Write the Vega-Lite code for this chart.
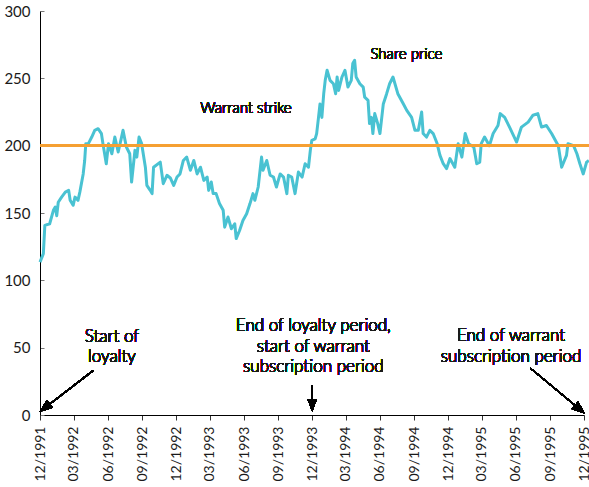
{
  "$schema": "https://vega.github.io/schema/vega-lite/v6.json",
  "width": 544,
  "height": 404,
  "autosize": "none",
  "padding": {"left": 40, "top": 11, "right": 5, "bottom": 72},
  "background": "white",
  "config": {
    "view": {"stroke": null},
    "font": "Lato",
    "axis": {"labelFont": "Lato", "labelColor": "#1a1a1a", "domainColor": "#000", "domainWidth": 1, "grid": false, "title": null},
    "text": {"font": "Lato", "fontWeight": 300, "fill": "#1a1a1a"}
  },
  "data": {
    "values": [
      {"date": "1991-12-01", "price": 113.5}, {"date": "1991-12-10", "price": 119.8}, {"date": "1991-12-14", "price": 140.8}, {"date": "1991-12-27", "price": 142},
      {"date": "1992-01-06", "price": 152}, {"date": "1992-01-11", "price": 154.4}, {"date": "1992-01-15", "price": 148}, {"date": "1992-01-19", "price": 158},
      {"date": "1992-01-28", "price": 161.8}, {"date": "1992-02-07", "price": 165.5}, {"date": "1992-02-16", "price": 166.8}, {"date": "1992-02-20", "price": 159.4},
      {"date": "1992-02-28", "price": 155.7}, {"date": "1992-03-04", "price": 161.8}, {"date": "1992-03-12", "price": 159.4}, {"date": "1992-03-17", "price": 165.5},
      {"date": "1992-03-26", "price": 179}, {"date": "1992-03-30", "price": 189}, {"date": "1992-04-02", "price": 201.5}, {"date": "1992-04-09", "price": 201.5},
      {"date": "1992-04-18", "price": 206.4}, {"date": "1992-04-26", "price": 211.4}, {"date": "1992-05-05", "price": 212.6}, {"date": "1992-05-14", "price": 208.9},
      {"date": "1992-05-18", "price": 201.5}, {"date": "1992-05-27", "price": 186.6}, {"date": "1992-06-02", "price": 201.5}, {"date": "1992-06-11", "price": 194},
      {"date": "1992-06-19", "price": 206.4}, {"date": "1992-06-28", "price": 195.3}, {"date": "1992-07-07", "price": 206.4}, {"date": "1992-07-11", "price": 211.4},
      {"date": "1992-07-20", "price": 199}, {"date": "1992-07-29", "price": 194}, {"date": "1992-08-03", "price": 173}, {"date": "1992-08-12", "price": 196.5},
      {"date": "1992-08-17", "price": 191.5}, {"date": "1992-08-23", "price": 206.4}, {"date": "1992-08-30", "price": 201.5}, {"date": "1992-09-09", "price": 184},
      {"date": "1992-09-13", "price": 170.5}, {"date": "1992-09-22", "price": 166.8}, {"date": "1992-09-27", "price": 164.4}, {"date": "1992-10-01", "price": 184},
      {"date": "1992-10-19", "price": 187.8}, {"date": "1992-10-27", "price": 171.8}, {"date": "1992-11-06", "price": 178}, {"date": "1992-11-15", "price": 176},
      {"date": "1992-11-24", "price": 170.5}, {"date": "1992-12-03", "price": 176.7}, {"date": "1992-12-11", "price": 179}, {"date": "1992-12-20", "price": 189},
      {"date": "1992-12-29", "price": 191.5}, {"date": "1993-01-08", "price": 181.7}, {"date": "1993-01-17", "price": 189}, {"date": "1993-01-26", "price": 179},
      {"date": "1993-02-04", "price": 184}, {"date": "1993-02-13", "price": 174.2}, {"date": "1993-02-22", "price": 176.7}, {"date": "1993-02-26", "price": 166.8},
      {"date": "1993-03-05", "price": 173}, {"date": "1993-03-10", "price": 164.4}, {"date": "1993-03-18", "price": 164.4}, {"date": "1993-03-27", "price": 157},
      {"date": "1993-04-06", "price": 152}, {"date": "1993-04-10", "price": 139.5}, {"date": "1993-04-19", "price": 147}, {"date": "1993-04-28", "price": 138.3},
      {"date": "1993-05-07", "price": 142}, {"date": "1993-05-11", "price": 131}, {"date": "1993-05-20", "price": 137}, {"date": "1993-05-29", "price": 144.5},
      {"date": "1993-06-08", "price": 149.5}, {"date": "1993-06-17", "price": 157}, {"date": "1993-06-25", "price": 164.4}, {"date": "1993-06-30", "price": 159.4},
      {"date": "1993-07-09", "price": 169.3}, {"date": "1993-07-18", "price": 191.5}, {"date": "1993-07-22", "price": 181.7}, {"date": "1993-08-01", "price": 189},
      {"date": "1993-08-10", "price": 178}, {"date": "1993-08-19", "price": 176.7}, {"date": "1993-08-27", "price": 169.3}, {"date": "1993-09-06", "price": 179},
      {"date": "1993-09-15", "price": 176.7}, {"date": "1993-09-24", "price": 164.4}, {"date": "1993-09-28", "price": 178}, {"date": "1993-10-07", "price": 176.7},
      {"date": "1993-10-16", "price": 164.4}, {"date": "1993-10-25", "price": 180.4}, {"date": "1993-11-04", "price": 176.7}, {"date": "1993-11-12", "price": 186.6},
      {"date": "1993-11-21", "price": 184}, {"date": "1993-11-26", "price": 196.5}, {"date": "1993-11-30", "price": 204}, {"date": "1993-12-09", "price": 205},
      {"date": "1993-12-13", "price": 209}, {"date": "1993-12-18", "price": 221}, {"date": "1993-12-22", "price": 231}, {"date": "1993-12-27", "price": 221},
      {"date": "1994-01-01", "price": 238.6}, {"date": "1994-01-05", "price": 248.5}, {"date": "1994-01-10", "price": 256}, {"date": "1994-01-18", "price": 248.5},
      {"date": "1994-01-27", "price": 246}, {"date": "1994-02-02", "price": 238.6}, {"date": "1994-02-06", "price": 251}, {"date": "1994-02-10", "price": 241},
      {"date": "1994-02-19", "price": 251}, {"date": "1994-02-27", "price": 256}, {"date": "1994-03-07", "price": 243.5}, {"date": "1994-03-16", "price": 248.5},
      {"date": "1994-03-20", "price": 261}, {"date": "1994-03-25", "price": 263.4}, {"date": "1994-03-29", "price": 251}, {"date": "1994-04-08", "price": 246},
      {"date": "1994-04-17", "price": 243.5}, {"date": "1994-04-21", "price": 236}, {"date": "1994-04-30", "price": 233.7}, {"date": "1994-05-04", "price": 216.4},
      {"date": "1994-05-09", "price": 221}, {"date": "1994-05-13", "price": 209}, {"date": "1994-05-18", "price": 223.8}, {"date": "1994-05-26", "price": 216.4},
      {"date": "1994-06-01", "price": 209}, {"date": "1994-06-10", "price": 231}, {"date": "1994-06-19", "price": 238.6}, {"date": "1994-06-27", "price": 246},
      {"date": "1994-07-06", "price": 251}, {"date": "1994-07-19", "price": 238.6}, {"date": "1994-08-03", "price": 231}, {"date": "1994-08-12", "price": 226.2},
      {"date": "1994-08-25", "price": 221}, {"date": "1994-09-03", "price": 211.4}, {"date": "1994-09-12", "price": 211.4}, {"date": "1994-09-21", "price": 225},
      {"date": "1994-09-25", "price": 209}, {"date": "1994-10-04", "price": 206.4}, {"date": "1994-10-13", "price": 211.4}, {"date": "1994-10-22", "price": 209},
      {"date": "1994-11-01", "price": 202}, {"date": "1994-11-09", "price": 193}, {"date": "1994-11-18", "price": 186.6}, {"date": "1994-11-27", "price": 183},
      {"date": "1994-12-06", "price": 190.4}, {"date": "1994-12-19", "price": 184}, {"date": "1994-12-28", "price": 201.5}, {"date": "1995-01-07", "price": 191.5},
      {"date": "1995-01-16", "price": 209}, {"date": "1995-01-25", "price": 201.5}, {"date": "1995-02-08", "price": 199}, {"date": "1995-02-16", "price": 186.6},
      {"date": "1995-02-24", "price": 187.8}, {"date": "1995-02-28", "price": 201.5}, {"date": "1995-03-09", "price": 206.4}, {"date": "1995-03-22", "price": 200},
      {"date": "1995-04-01", "price": 209}, {"date": "1995-04-14", "price": 215}, {"date": "1995-04-20", "price": 223.8}, {"date": "1995-05-02", "price": 221},
      {"date": "1995-05-15", "price": 213.8}, {"date": "1995-06-03", "price": 202.7}, {"date": "1995-06-16", "price": 213.8}, {"date": "1995-07-04", "price": 217.5},
      {"date": "1995-07-17", "price": 222.6}, {"date": "1995-07-30", "price": 223.8}, {"date": "1995-08-09", "price": 213.8}, {"date": "1995-08-22", "price": 215},
      {"date": "1995-09-05", "price": 209}, {"date": "1995-09-23", "price": 200}, {"date": "1995-10-02", "price": 184}, {"date": "1995-10-15", "price": 192.8},
      {"date": "1995-10-19", "price": 201.5}, {"date": "1995-11-03", "price": 200}, {"date": "1995-11-12", "price": 194}, {"date": "1995-11-20", "price": 186.6},
      {"date": "1995-11-29", "price": 179}, {"date": "1995-12-08", "price": 187.8}, {"date": "1995-12-14", "price": 189}
    ]
  },
  "layer": [
    {
      "mark": {"type": "line", "color": "#49C2D2", "strokeWidth": 3, "strokeJoin": "round", "clip": false},
      "encoding": {
        "x": {
          "field": "date", "type": "temporal",
          "scale": {"type": "utc", "domain": [{"year": 1991, "month": 12, "date": 1, "utc": true}, {"year": 1995, "month": 12, "date": 1, "utc": true}], "nice": false},
          "axis": {
            "values": [
              {"year": 1991, "month": 12, "date": 1, "utc": true},
              {"year": 1992, "month": 3, "date": 1, "utc": true}, {"year": 1992, "month": 6, "date": 1, "utc": true}, {"year": 1992, "month": 9, "date": 1, "utc": true}, {"year": 1992, "month": 12, "date": 1, "utc": true},
              {"year": 1993, "month": 3, "date": 1, "utc": true}, {"year": 1993, "month": 6, "date": 1, "utc": true}, {"year": 1993, "month": 9, "date": 1, "utc": true}, {"year": 1993, "month": 12, "date": 1, "utc": true},
              {"year": 1994, "month": 3, "date": 1, "utc": true}, {"year": 1994, "month": 6, "date": 1, "utc": true}, {"year": 1994, "month": 9, "date": 1, "utc": true}, {"year": 1994, "month": 12, "date": 1, "utc": true},
              {"year": 1995, "month": 3, "date": 1, "utc": true}, {"year": 1995, "month": 6, "date": 1, "utc": true}, {"year": 1995, "month": 9, "date": 1, "utc": true}, {"year": 1995, "month": 12, "date": 1, "utc": true}
            ],
            "tickCount": 40,
            "format": "%m/%Y",
            "labelAngle": 270,
            "labelFontSize": 14,
            "labelPadding": 6,
            "labelOverlap": false,
            "labelFlush": false,
            "labelBound": false,
            "tickSize": 5,
            "tickColor": "#333",
            "domainColor": "#000"
          }
        },
        "y": {
          "field": "price", "type": "quantitative",
          "scale": {"domain": [0, 300], "nice": false},
          "axis": {"values": [0, 50, 100, 150, 200, 250, 300], "tickCount": 10, "labelFontSize": 15, "tickSize": -4, "tickColor": "#777", "labelPadding": 14, "domainColor": "#000"}
        }
      }
    },
    {
      "mark": {"type": "rule", "color": "#F5A033", "strokeWidth": 2.5, "clip": false},
      "encoding": {
        "x": {"datum": {"year": 1991, "month": 12, "date": 1, "utc": true}, "type": "temporal"},
        "x2": {"datum": {"year": 1995, "month": 12, "date": 16, "utc": true}},
        "y": {"datum": 200, "type": "quantitative"}
      }
    },
    {
      "mark": {"type": "text", "text": "Warrant strike", "font": "Lato", "fontSize": 15, "fontWeight": 300, "align": "center", "baseline": "alphabetic", "fill": "#1a1a1a"},
      "encoding": {"x": {"datum": {"year": 1993, "month": 6, "date": 6, "utc": true}, "type": "temporal"}, "y": {"datum": 224, "type": "quantitative"}}
    },
    {
      "mark": {"type": "text", "text": "Share price", "font": "Lato", "fontSize": 15, "fontWeight": 300, "align": "center", "baseline": "alphabetic", "fill": "#1a1a1a"},
      "encoding": {"x": {"datum": {"year": 1994, "month": 8, "date": 11, "utc": true}, "type": "temporal"}, "y": {"datum": 264.5, "type": "quantitative"}}
    },
    {
      "mark": {"type": "text", "text": ["Start of", "loyalty"], "font": "Lato", "fontSize": 17, "fontWeight": 300, "lineHeight": 20, "align": "center", "baseline": "alphabetic", "fill": "#1a1a1a"},
      "encoding": {"x": {"datum": {"year": 1992, "month": 6, "date": 11, "utc": true}, "type": "temporal"}, "y": {"datum": 54, "type": "quantitative"}}
    },
    {
      "mark": {"type": "text", "text": ["End of loyalty period,", "start of warrant", "subscription period"], "font": "Lato", "fontSize": 17, "fontWeight": 300, "lineHeight": 20.5, "align": "center", "baseline": "alphabetic", "fill": "#1a1a1a"},
      "encoding": {"x": {"datum": {"year": 1993, "month": 12, "date": 4, "utc": true}, "type": "temporal"}, "y": {"datum": 62.3, "type": "quantitative"}}
    },
    {
      "mark": {"type": "text", "text": ["End of warrant", "subscription period"], "font": "Lato", "fontSize": 17, "fontWeight": 300, "lineHeight": 21, "align": "center", "baseline": "alphabetic", "fill": "#1a1a1a"},
      "encoding": {"x": {"datum": {"year": 1995, "month": 5, "date": 19, "utc": true}, "type": "temporal"}, "y": {"datum": 54.8, "type": "quantitative"}}
    },
    {
      "mark": {"type": "rule", "color": "#000", "strokeWidth": 1.2},
      "encoding": {
        "x": {"datum": {"year": 1992, "month": 4, "date": 22, "utc": true}, "type": "temporal"},
        "x2": {"datum": {"year": 1991, "month": 12, "date": 14, "utc": true}},
        "y": {"datum": 33.1, "type": "quantitative"},
        "y2": {"datum": 5.3}
      }
    },
    {
      "mark": {"type": "point", "shape": "M0,-1L-0.75,1L0.75,1Z", "filled": true, "opacity": 1, "color": "#000", "size": 169, "angle": 232.6},
      "encoding": {"x": {"datum": {"year": 1991, "month": 12, "date": 14, "utc": true}, "type": "temporal"}, "y": {"datum": 5.3, "type": "quantitative"}}
    },
    {
      "mark": {"type": "rule", "color": "#000", "strokeWidth": 1.2},
      "encoding": {
        "x": {"datum": {"year": 1993, "month": 12, "date": 1, "utc": true}, "type": "temporal"},
        "y": {"datum": 21.9, "type": "quantitative"},
        "y2": {"datum": 7}
      }
    },
    {
      "mark": {"type": "point", "shape": "M0,-1L-0.75,1L0.75,1Z", "filled": true, "opacity": 1, "color": "#000", "size": 144, "angle": 180},
      "encoding": {"x": {"datum": {"year": 1993, "month": 12, "date": 1, "utc": true}, "type": "temporal"}, "y": {"datum": 7, "type": "quantitative"}}
    },
    {
      "mark": {"type": "rule", "color": "#000", "strokeWidth": 1.2},
      "encoding": {
        "x": {"datum": {"year": 1995, "month": 7, "date": 10, "utc": true}, "type": "temporal"},
        "x2": {"datum": {"year": 1995, "month": 11, "date": 20, "utc": true}},
        "y": {"datum": 34.8, "type": "quantitative"},
        "y2": {"datum": 4.2}
      }
    },
    {
      "mark": {"type": "point", "shape": "M0,-1L-0.75,1L0.75,1Z", "filled": true, "opacity": 1, "color": "#000", "size": 169, "angle": 129.8},
      "encoding": {"x": {"datum": {"year": 1995, "month": 11, "date": 20, "utc": true}, "type": "temporal"}, "y": {"datum": 4.2, "type": "quantitative"}}
    }
  ]
}
